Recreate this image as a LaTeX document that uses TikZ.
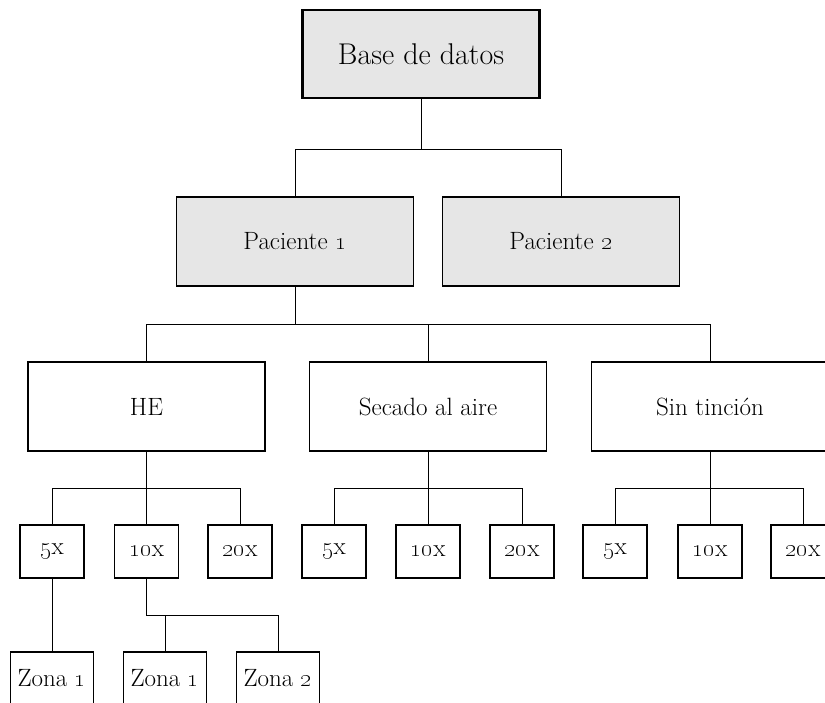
\documentclass[tikz,border=0pt]{standalone}
\usepackage{xcolor}
\usepackage{tikz}
\usetikzlibrary{positioning}
\definecolor{boxgray}{RGB}{230, 230, 230}

\tikzset{
  caja/.style={draw, line width=1.1pt, inner sep=0pt, font=\fontsize{25}{29}\selectfont},
  grande/.style={caja, minimum width=237pt, minimum height=89pt},
  gris/.style={grande, fill=boxgray},
  aumento/.style={caja, minimum width=64pt, minimum height=53pt},
  zona/.style={caja, minimum width=83pt, minimum height=53pt},
  rama/.style={line width=1pt}
}
\newcommand{\osn}[1]{\oldstylenums{#1}}

\begin{document}
\begin{tikzpicture}[x=1pt, y=-1pt]
\useasboundingbox (0,0) rectangle (825,702);

% base y pacientes
\node[gris, line width=2.6pt, minimum height=88pt, font=\fontsize{30}{34}\selectfont] (db) at (421,54) {Base de datos};
\node[gris] (p1) at (295,241.5) {Paciente \osn{1}};
\node[gris] (p2) at (561,241.5) {Paciente \osn{2}};

% tinciones
\node[grande] (he) at (146.5,406.5) {HE};
\node[grande] (sec) at (428,406.5) {Secado al aire};
\node[grande] (sin) at (710,406.5) {Sin tinci\'on};

% aumentos
\node[aumento] (he5) at (52,551.5) {\osn{5}x};
\node[aumento] (he10) at (146.5,551.5) {\osn{10}x};
\node[aumento] (he20) at (240,551.5) {\osn{20}x};
\node[aumento] (sec5) at (334,551.5) {\osn{5}x};
\node[aumento] (sec10) at (428,551.5) {\osn{10}x};
\node[aumento] (sec20) at (522,551.5) {\osn{20}x};
\node[aumento] (sin5) at (615,551.5) {\osn{5}x};
\node[aumento] (sin10) at (710,551.5) {\osn{10}x};
\node[aumento] (sin20) at (803,551.5) {\osn{20}x};

% zonas
\node[zona] (z51) at (52,678.5) {Zona \osn{1}};
\node[zona] (z101) at (165,678.5) {Zona \osn{1}};
\node[zona] (z102) at (278,678.5) {Zona \osn{2}};

% ramas
\draw[rama] (db.south) -- ++(0,50) coordinate (bdb);
\draw[rama] (p1.north) |- (bdb) -| (p2.north);

\draw[rama] (p1.south) -- ++(0,38) coordinate (bp1);
\draw[rama] (he.north) |- (bp1) -| (sin.north);
\draw[rama] (bp1 -| sec.north) -- (sec.north);

\foreach \t in {he, sec, sin} {
  \draw[rama] (\t.south) -- ++(0,37) coordinate (b\t);
  \draw[rama] (\t5.north) |- (b\t) -| (\t20.north);
  \draw[rama] (b\t) -- (\t10.north);
}

\draw[rama] (he5.south) -- (z51.north);
\draw[rama] (he10.south) -- ++(0,37) coordinate (bhe10);
\draw[rama] (bhe10) -| (z102.north);
\draw[rama] (bhe10 -| z101.north) -- (z101.north);
\end{tikzpicture}
\end{document}
